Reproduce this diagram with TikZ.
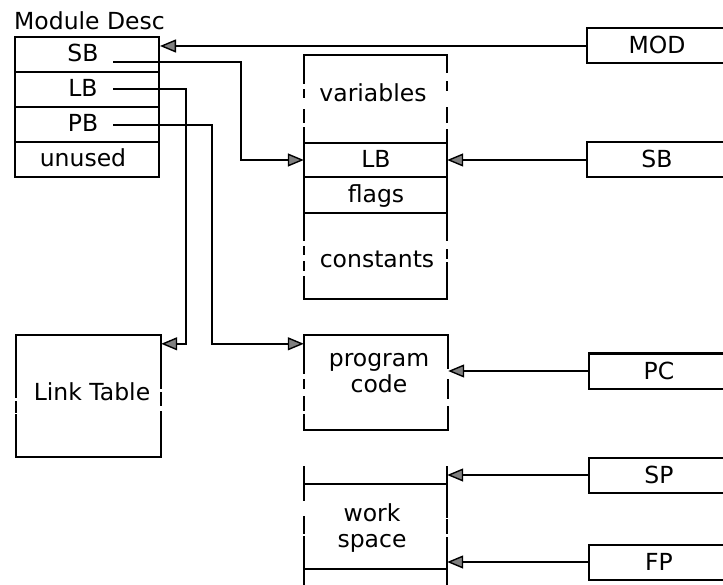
\documentclass[tikz,border=0pt]{standalone}
\usepackage{fontspec}
\setmainfont{DejaVu Sans}
\usetikzlibrary{arrows.meta,calc}

% vertical side made of solid runs: \vrun{x}{y1/y2, y3/y4, ...}
\newcommand\vrun[2]{\foreach \ya/\yb in {#2}{\draw[edge] (#1,\ya) -- (#1,\yb);}}

\begin{document}
\begin{tikzpicture}[x=1pt,y=-1pt,
  font=\fontsize{23.5}{26}\selectfont,
  edge/.style={line width=2pt, line cap=rect},
  cell/.style={draw, line width=2pt, minimum width=144pt, minimum height=35pt, inner sep=0pt},
  region/.style={inner sep=0pt, minimum width=143pt},
  ptr/.style={draw, line width=2pt, minimum width=140pt, minimum height=35pt, inner sep=0pt,
              text height=16pt, text depth=0pt},
  txt/.style={inner sep=0pt, anchor=base},
  tip/.tip={Triangle[length=16pt, width=13pt, fill=black!50, line width=1.4pt]},
  arr/.style={line width=2pt, -tip},
]
\useasboundingbox (0,0) rectangle (723,585);
\clip (0,0) rectangle (723,585);

% ---------------- module descriptor ----------------
\node[txt, anchor=base west] (title) at (14,30) {Module Desc};
\node[cell] (mdsb) at (87,54.5)  {};
\node[cell] (mdlb) at (87,89.5)  {};
\node[cell] (mdpb) at (87,124.5) {};
\node[cell] (mdun) at (87,159.5) {};
\node[txt] (tmdsb) at (83,62)  {SB};
\node[txt] (tmdlb) at (83,97)  {LB};
\node[txt] (tmdpb) at (83,132) {PB};
\node[txt] (tmdun) at (83,167) {unused};
\coordinate (sbout) at (113,62);
\coordinate (lbout) at (113,89);
\coordinate (pbout) at (113,125);

% ---------------- data segment ----------------
\node[region, minimum height=88pt] (vars)   at (375.5,99)  {};
\node[region, minimum height=34pt] (lbm)    at (375.5,160) {};
\node[region, minimum height=36pt] (flags)  at (375.5,195) {};
\node[region, minimum height=86pt] (consts) at (375.5,256) {};
\draw[edge] (vars.north west) -- (vars.north east);
\draw[edge] (lbm.north west) -- (lbm.north east);
\draw[edge] (flags.north west) -- (flags.north east);
\draw[edge] (consts.north west) -- (consts.north east);
\draw[edge] (consts.south west) -- (consts.south east);
\vrun{304}{55/83, 90/97, 110/122, 128/240, 247/254, 262/270, 277/299}
\vrun{447}{55/72, 82/90, 108/122, 130/240, 250/258, 263/299}
\node[txt] (tvars)   at (373,102) {variables};
\node[txt] (tlbm)    at (376,168) {LB};
\node[txt] (tflags)  at (376,203) {flags};
\node[txt] (tconsts) at (377,268) {constants};

% ---------------- link table ----------------
\node[inner sep=0pt, minimum width=145pt, minimum height=122pt] (link) at (88.5,396) {};
\draw[edge] (link.north west) -- (link.north east);
\draw[edge] (link.south west) -- (link.south east);
\vrun{16}{335/397, 402/412, 415/457}
\vrun{161}{335/388, 393/405, 412/457}
\node[txt] (tlink) at (92,400) {Link Table};

% ---------------- program code ----------------
\node[inner sep=0pt, minimum width=144pt, minimum height=95pt] (prog) at (376,382.5) {};
\draw[edge] (prog.north west) -- (prog.north east);
\draw[edge] (prog.south west) -- (prog.south east);
\vrun{304}{335/373, 380/388, 397/410, 415/430}
\vrun{448}{335/368, 380/398, 407/413, 415/430}
\node[txt, align=center] (tprog) at (379,392) {program\\code};

% ---------------- work space ----------------
\node[region, minimum height=85pt] (work) at (375.5,526.5) {};
\draw[edge] (work.north west) -- (work.north east);
\draw[edge] (work.south west) -- (work.south east);
\vrun{304}{467/500, 517/533, 537/590}
\vrun{447}{467/517, 520/533, 538/590}
\node[txt, align=center] (twork) at (372,547) {work\\space};

% ---------------- registers ----------------
\node[ptr] (rmod) at (657,46)  {MOD};
\node[ptr] (rsb)  at (657,160) {SB};
\node[ptr] (rpc)  at (659,371) {PC};
\node[ptr] (rsp)  at (659,475) {SP};
\node[ptr] (rfp)  at (659,562) {FP};

% ---------------- pointers ----------------
\draw[arr] (rmod.west) -- (rmod.west -| mdsb.east);
\draw[arr] (sbout) -- (241,62) |- (lbm.west);
\draw[arr] (lbout) -- (186,89) |- ($(link.north east)+(0,9)$);
\draw[arr] (pbout) -- (212,125) |- ($(prog.north west)+(0,9)$);
\draw[arr] (rsb.west) -- (rsb.west -| lbm.east);
\draw[arr] (rpc.west) -- (rpc.west -| prog.east);
\draw[arr] (rsp.west) -- (rsp.west -| work.east);
\draw[arr] (rfp.west) -- (rfp.west -| work.east);
\end{tikzpicture}
\end{document}
